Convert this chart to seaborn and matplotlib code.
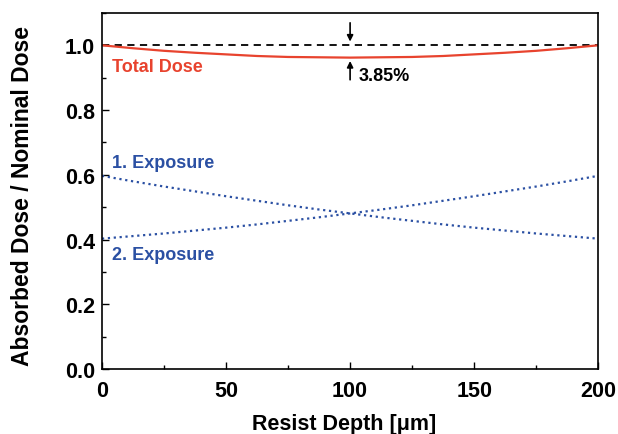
import numpy as np
import pandas as pd
import matplotlib
matplotlib.use("Agg")
import matplotlib.pyplot as plt
from matplotlib.ticker import MultipleLocator, FormatStrFormatter
import seaborn as sns

sns.set_style("ticks")
plt.rcParams['font.family'] = ['Liberation Sans', 'DejaVu Sans']
plt.rcParams['font.weight'] = 'bold'
plt.rcParams['text.color'] = 'black'
plt.rcParams['axes.labelcolor'] = 'black'
plt.rcParams['xtick.color'] = 'black'
plt.rcParams['ytick.color'] = 'black'
plt.rcParams['axes.edgecolor'] = 'black'

# Values
depth = [0, 12.5, 25, 37.5, 50, 62.5, 75, 87.5, 100,
         112.5, 125, 137.5, 150, 162.5, 175, 187.5, 200]
exposure1 = [0.597, 0.580, 0.564, 0.549, 0.534, 0.520, 0.506, 0.493, 0.481,
             0.469, 0.458, 0.447, 0.437, 0.428, 0.419, 0.411, 0.403]
exposure2 = exposure1[::-1]
total_dose = [1.000, 0.991, 0.983, 0.977, 0.972, 0.967, 0.964, 0.963, 0.962,
              0.963, 0.964, 0.967, 0.972, 0.977, 0.983, 0.991, 1.000]
nominal = [1.0, 1.0]
nominal_x = [0, 200]

red = "#E8432E"
blue = "#2B50A3"

df = pd.DataFrame({"depth": depth, "exp1": exposure1, "exp2": exposure2, "total": total_dose})

fig = plt.figure(figsize=(6.18, 4.35), dpi=100)
ax = fig.add_axes([0.165, 0.149, 0.803, 0.819])

ax.plot(nominal_x, nominal, color="black", ls=(0, (4, 3)), lw=1.3)
sns.lineplot(data=df, x="depth", y="total", color=red, lw=1.6, ax=ax)
sns.lineplot(data=df, x="depth", y="exp1", color=blue, lw=1.6, ls=":", ax=ax)
sns.lineplot(data=df, x="depth", y="exp2", color=blue, lw=1.6, ls=":", ax=ax)

ax.set_xlim(0, 200)
ax.set_ylim(0, 1.1)
ax.xaxis.set_major_locator(MultipleLocator(50))
ax.xaxis.set_minor_locator(MultipleLocator(25))
ax.yaxis.set_major_locator(MultipleLocator(0.2))
ax.yaxis.set_minor_locator(MultipleLocator(0.1))
ax.yaxis.set_major_formatter(FormatStrFormatter("%.1f"))
ax.tick_params(which="both", direction="in", top=False, right=False, width=1.0)
ax.tick_params(which="major", length=5, labelsize=15.5)
ax.tick_params(which="minor", length=3)
ax.tick_params(axis="x", which="major", pad=8)
ax.tick_params(axis="y", which="major", pad=5)
for s in ax.spines.values():
    s.set_linewidth(1.2)

ax.set_xlabel("Resist Depth [μm]", fontsize=15.5, fontweight="bold")
ax.set_ylabel("Absorbed Dose / Nominal Dose", fontsize=16.5, fontweight="bold")
ax.xaxis.set_label_coords(0.488, -0.122)
ax.yaxis.set_label_coords(-0.137, 0.49)

ax.text(4, 0.935, "Total Dose", color=red, fontsize=13, fontweight="bold", va="center")
ax.text(4, 0.637, "1. Exposure", color=blue, fontsize=13, fontweight="bold", va="center")
ax.text(4, 0.355, "2. Exposure", color=blue, fontsize=13, fontweight="bold", va="center")
ax.text(103.5, 0.907, "3.85%", color="black", fontsize=13, fontweight="bold", va="center")

ax.annotate("", xy=(100, 1.003), xytext=(100, 1.078),
            arrowprops=dict(arrowstyle="-|>", color="black", lw=1.2, mutation_scale=9))
ax.annotate("", xy=(100, 0.96), xytext=(100, 0.885),
            arrowprops=dict(arrowstyle="-|>", color="black", lw=1.2, mutation_scale=9))

fig.savefig("out.png", dpi=100)
